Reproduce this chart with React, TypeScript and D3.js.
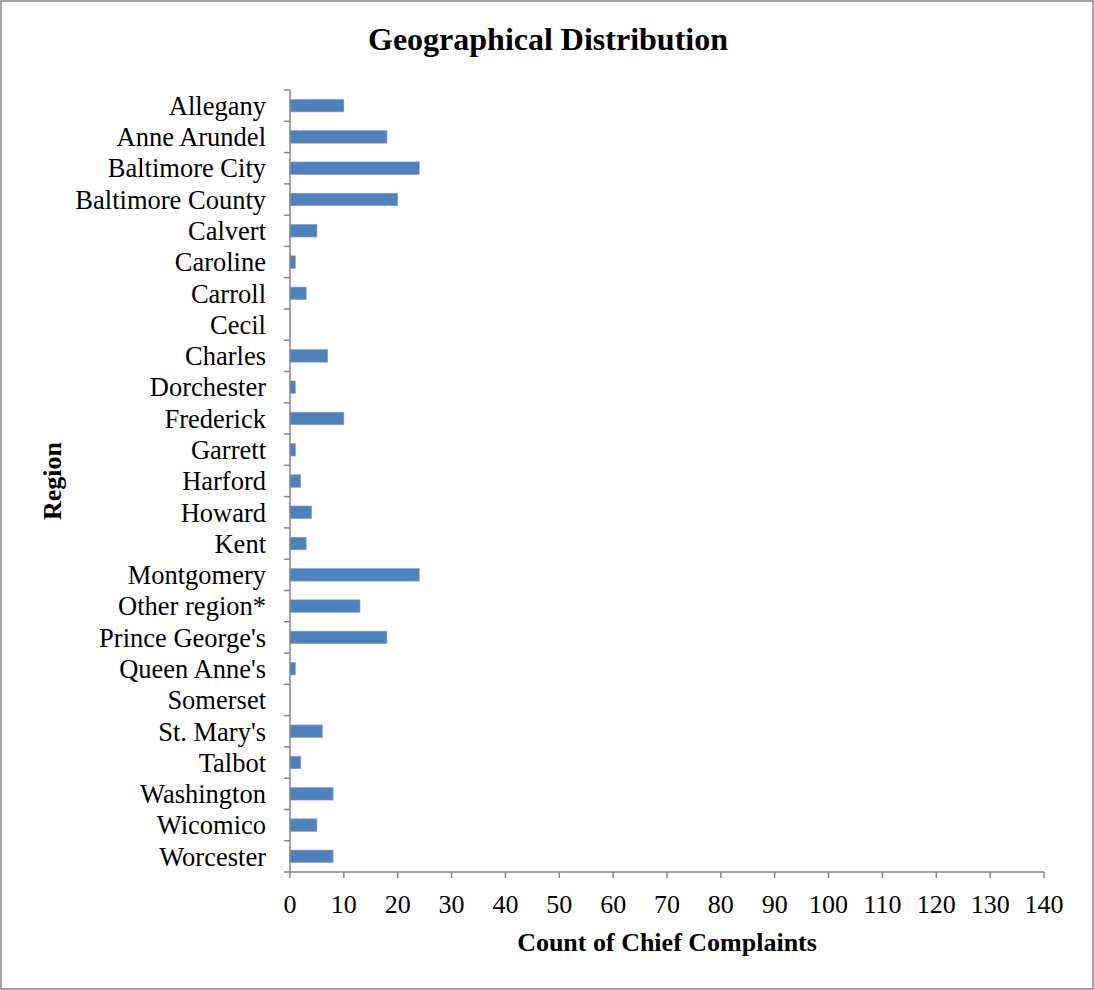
import * as d3 from 'd3';

const regions = [
  'Allegany', 'Anne Arundel', 'Baltimore City', 'Baltimore County', 'Calvert',
  'Caroline', 'Carroll', 'Cecil', 'Charles', 'Dorchester', 'Frederick', 'Garrett',
  'Harford', 'Howard', 'Kent', 'Montgomery', 'Other region*', "Prince George's",
  "Queen Anne's", 'Somerset', "St. Mary's", 'Talbot', 'Washington', 'Wicomico', 'Worcester',
];
const counts = [10, 18, 24, 20, 5, 1, 3, 0, 7, 1, 10, 1, 2, 4, 3, 24, 13, 18, 1, 0, 6, 2, 8, 5, 8];
const xTicks = d3.range(0, 141, 10);

const W = 1094;
const H = 990;
const margin = { left: 290, right: 50, top: 90, bottom: 118 };
const font = '"Liberation Serif", "Times New Roman", serif';

export default function App() {
  const x = d3.scaleLinear().domain([0, 140]).range([margin.left, W - margin.right]);
  const y = d3.scaleBand<string>().domain(regions).range([margin.top, H - margin.bottom]).paddingInner(0.6).paddingOuter(0.3);
  const band = d3.scaleBand<string>().domain(regions).range([margin.top, H - margin.bottom]);
  const axisY = H - margin.bottom;
  const data = regions.map((r, i) => ({ r, v: counts[i] }));

  return (
    <div style={{ position: 'absolute', left: 0, top: 0 }}>
      <svg width={W} height={H} style={{ display: 'block', fontFamily: font }}>
        <rect x={1} y={1} width={W - 2} height={H - 2} fill="#fff" stroke="#868686" strokeWidth={1.5} />
        <text x={548} y={50} textAnchor="middle" fontSize={32} fontWeight="bold">Geographical Distribution</text>

        {data.map(d => (
          <rect key={d.r} x={x(0)} y={y(d.r)} width={x(d.v) - x(0)} height={y.bandwidth()}
            fill="#4F81BD" stroke="#7da2d3" strokeWidth={0.6} />
        ))}

        {/* y axis */}
        <line x1={x(0)} x2={x(0)} y1={margin.top} y2={axisY} stroke="#868686" strokeWidth={1.5} />
        {regions.map(r => (
          <line key={'t' + r} x1={x(0) - 6} x2={x(0)} y1={band(r)} y2={band(r)} stroke="#868686" strokeWidth={1.5} />
        ))}
        {regions.map(r => (
          <text key={'l' + r} x={266} y={(band(r) ?? 0) + band.bandwidth() / 2} dy="0.35em" textAnchor="end" fontSize={26.5}>{r}</text>
        ))}

        {/* x axis */}
        <line x1={x(0) - 6} x2={x(140)} y1={axisY} y2={axisY} stroke="#868686" strokeWidth={1.5} />
        {xTicks.map(t => (
          <g key={'x' + t}>
            <line x1={x(t)} x2={x(t)} y1={axisY} y2={axisY + 6} stroke="#868686" strokeWidth={1.5} />
            <text x={x(t)} y={913} textAnchor="middle" fontSize={26}>{t}</text>
          </g>
        ))}

        <text x={667} y={951} textAnchor="middle" fontSize={26} fontWeight="bold">Count of Chief Complaints</text>
        <text transform={`translate(61,${(margin.top + axisY) / 2}) rotate(-90)`} textAnchor="middle" fontSize={26} fontWeight="bold">Region</text>
      </svg>
    </div>
  );
}
